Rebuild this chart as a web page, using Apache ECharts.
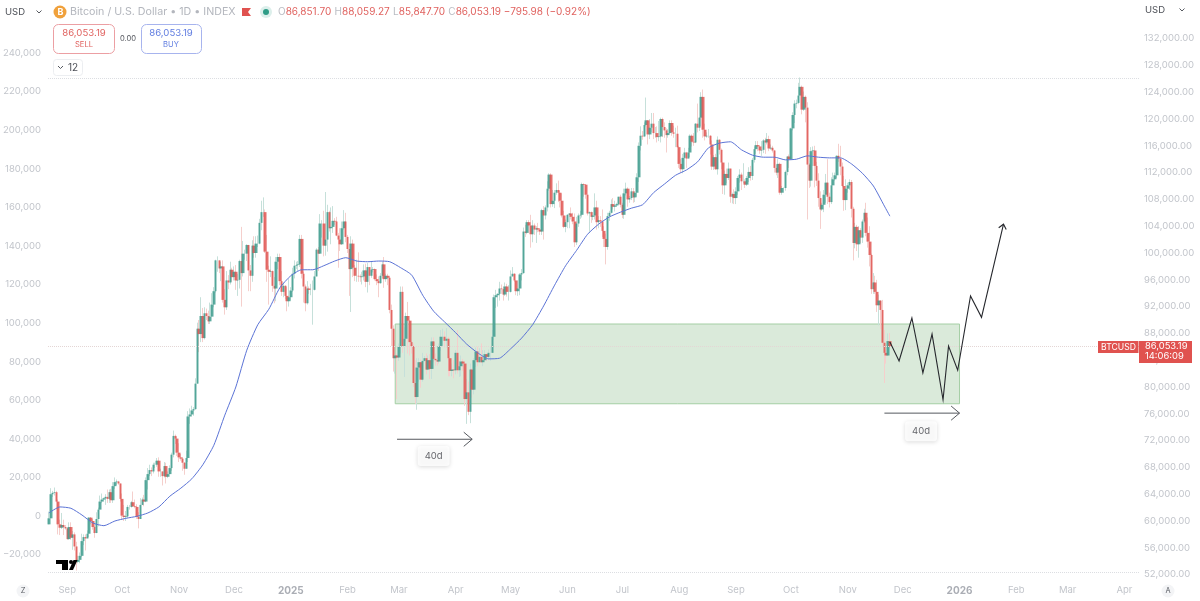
<!DOCTYPE html>
<html>
<head>
<meta charset="utf-8">
<title>BTCUSD</title>
<style>
  html, body { margin: 0; padding: 0; background: #fff; }
  #chart { width: 1200px; height: 601px; }
</style>
<script src="https://cdn.jsdelivr.net/npm/echarts@6/dist/echarts.min.js"></script>
</head>
<body>
<div id="chart"></div>
<script>
//--------------------- Data (thousands of USD) -------------------------------------------------//
const firstDay = '2024-08-22';
const axisDays = 596;
const firstOpen = 59.5;

const closes = [
  60.4,64.0,64.2,64.3,62.9,59.5,59.0,59.4,59.1,58.9,
  57.3,59.1,57.5,58.0,56.2,53.9,54.2,54.8,57.0,57.6,57.4,58.1,60.5,60.0,59.1,58.2,60.3,61.7,62.9,63.2,63.4,63.6,63.3,64.3,63.1,65.2,65.8,65.9,65.6,63.3,
  60.8,60.6,60.7,62.1,62.1,62.8,62.2,62.1,60.6,60.3,62.4,63.2,62.9,66.1,67.0,67.6,67.4,68.4,68.4,69.0,67.4,67.4,66.7,68.2,66.6,67.0,67.9,69.9,72.7,72.3,70.2,
  69.5,69.3,68.7,67.8,69.4,75.6,75.9,76.5,76.7,80.5,88.7,87.9,90.6,87.3,91.0,90.6,89.8,90.5,92.3,94.3,98.9,98.9,97.7,98.0,93.0,91.9,95.9,95.6,97.5,96.4,
  97.2,95.9,96.0,98.8,97.0,99.9,99.9,101.2,97.4,96.6,101.1,100.0,101.4,101.4,104.5,106.1,106.1,100.2,97.5,97.2,97.3,95.1,94.7,98.7,99.4,95.8,94.2,95.1,93.6,92.8,93.4,
  94.4,96.9,98.1,98.2,98.3,102.1,96.9,95.0,92.5,94.7,94.5,94.5,94.5,96.5,100.5,99.9,104.4,104.4,101.1,102.0,106.1,103.7,103.9,104.8,104.7,102.6,102.0,101.3,103.7,104.7,102.4,
  100.6,97.6,101.4,97.8,96.6,96.6,96.5,96.4,96.5,97.4,95.7,97.9,96.6,97.5,97.6,96.1,95.8,95.5,96.6,98.3,96.1,96.6,96.3,91.5,88.7,84.3,84.7,84.4,
  86.0,94.2,86.1,87.2,90.6,89.9,86.7,86.1,80.6,78.5,82.9,83.7,81.1,83.9,84.3,82.6,84.0,82.7,86.8,84.2,84.0,83.8,86.1,87.5,87.5,86.9,87.2,84.3,82.4,82.6,82.5,
  85.1,82.5,83.1,83.8,83.5,78.2,79.2,76.3,82.6,79.6,84.0,85.3,83.7,84.5,83.7,84.0,84.9,84.5,85.1,85.1,87.5,93.4,93.7,93.9,94.7,94.6,93.8,95.0,94.2,94.2,
  96.5,96.9,95.9,94.3,94.7,96.8,97.0,103.2,103.0,104.6,104.1,102.8,104.1,103.5,103.7,103.5,103.2,106.4,105.6,106.8,109.6,111.7,107.3,107.8,109.0,109.4,109.0,107.8,105.6,103.9,104.6,
  105.7,105.9,105.4,104.7,101.6,104.4,105.6,105.7,110.3,110.2,108.7,105.9,106.1,105.4,105.6,106.8,104.6,104.9,104.7,103.3,102.1,100.9,105.5,106.0,107.3,106.9,107.1,107.3,108.4,107.2,
  105.7,108.9,109.6,108.0,108.2,109.2,108.3,109.0,111.3,116.0,117.5,117.4,119.1,119.8,117.7,118.7,119.3,117.9,117.9,117.3,117.4,120.0,118.8,118.3,117.6,117.9,119.4,118.0,117.8,117.8,115.8,
  113.3,112.5,114.2,115.0,114.1,115.0,117.5,116.6,116.5,119.3,118.7,120.2,123.3,118.4,117.4,117.5,117.5,116.2,112.9,114.3,112.5,116.9,115.4,113.5,110.1,111.8,111.2,112.6,108.4,108.8,108.2,
  109.2,111.2,111.7,110.7,110.7,110.2,111.2,112.1,111.5,113.9,115.5,116.1,115.9,115.3,115.4,116.8,116.5,117.0,115.6,115.7,115.3,112.7,112.0,113.3,109.0,109.7,109.7,112.1,114.4,114.0,
  118.6,120.6,122.3,122.4,123.5,124.8,121.4,123.3,121.7,113.2,110.8,115.2,115.3,113.0,110.8,108.2,106.5,107.2,108.7,110.5,108.4,107.6,110.1,111.0,111.6,114.5,114.1,112.9,110.0,107.9,109.6,
  110.1,110.6,106.6,101.5,103.9,101.3,103.4,102.3,104.7,106.0,103.0,101.7,99.7,94.6,95.6,94.2,92.2,92.9,91.5,86.6,85.1,84.7,86.85,86.05
];

const highs = [
  61.4,64.9,64.5,65.0,64.5,63.2,60.2,61.2,60.2,59.4,
  59.0,59.8,59.8,58.5,58.3,56.9,54.8,55.3,58.1,58.0,58.0,58.6,60.6,60.6,60.3,59.2,61.3,62.0,63.8,64.1,63.5,64.0,64.7,64.7,64.8,65.8,66.5,66.2,66.0,65.6,
  64.1,62.4,61.5,62.4,62.4,63.0,64.4,63.2,62.5,61.3,63.4,63.5,63.9,66.5,67.9,68.4,68.0,68.7,68.7,69.4,69.5,67.8,67.4,68.8,68.7,67.4,68.3,70.2,73.5,72.9,72.6,
  71.6,70.0,69.5,68.8,70.5,76.4,76.8,77.2,77.0,81.3,89.6,90.0,93.4,91.8,91.9,91.7,91.4,92.6,94.0,94.9,99.0,99.5,98.7,98.7,98.9,94.6,97.3,96.7,98.7,97.8,
  98.0,98.2,96.9,99.0,103.9,101.8,100.5,101.3,101.2,98.2,101.9,102.5,102.5,102.6,105.1,107.8,108.3,106.5,102.7,98.1,99.5,97.4,96.4,99.4,99.9,99.9,97.3,95.6,95.2,94.9,96.1,
  94.9,97.8,98.9,98.7,98.8,102.7,102.7,97.2,95.3,95.8,95.0,95.4,95.9,97.3,100.7,100.9,105.8,104.9,106.3,109.1,107.2,106.3,106.8,107.0,105.2,105.4,103.0,103.7,104.7,106.4,106.0,
  102.7,101.4,102.5,102.0,98.2,99.0,100.1,96.8,97.2,98.3,98.4,98.5,97.9,98.8,97.9,97.7,96.8,96.5,97.0,98.7,99.4,96.9,96.9,96.5,92.3,89.2,87.0,85.0,
  86.5,95.0,95.0,88.9,91.1,92.7,90.0,86.9,86.5,84.0,84.3,84.3,84.1,85.1,84.6,85.0,84.7,84.9,87.4,87.4,85.0,84.5,86.5,88.5,88.7,88.3,88.8,87.5,84.6,83.5,84.0,
  85.5,88.5,83.9,84.7,84.2,83.8,81.2,80.8,83.5,82.8,84.3,85.9,86.0,85.8,86.5,85.5,85.5,85.0,85.6,86.0,88.5,93.8,94.5,94.0,95.7,95.3,95.0,95.6,95.4,95.2,
  97.4,97.9,97.0,96.0,95.9,97.0,97.6,103.8,104.2,104.9,104.9,105.7,104.9,104.4,104.0,104.5,103.7,106.6,107.0,107.1,110.7,111.9,111.9,109.4,109.4,110.4,110.8,109.3,108.9,106.3,105.0,
  105.8,105.9,106.8,106.0,105.9,105.4,105.9,106.3,110.5,110.4,110.3,108.5,106.2,106.2,106.1,108.9,107.8,105.5,105.5,106.5,104.0,102.9,106.0,106.3,108.0,108.2,107.8,107.5,108.4,108.7,
  107.5,109.6,110.5,109.8,108.5,109.7,109.7,109.2,111.9,116.5,118.9,118.2,119.5,123.2,119.5,120.0,120.9,120.9,118.8,118.9,119.7,120.2,120.2,119.5,118.6,118.5,119.8,119.8,119.0,118.7,119.0,
  116.0,114.0,114.8,115.7,115.1,115.7,117.7,117.7,117.9,119.4,122.3,120.3,124.0,124.4,119.3,118.0,118.5,117.6,116.8,114.6,114.8,117.4,117.0,115.6,113.6,112.3,112.6,113.5,112.6,109.0,109.5,
  109.8,111.5,112.5,112.0,113.4,111.0,111.5,112.8,113.0,114.2,115.9,116.7,116.7,116.0,116.7,117.0,117.2,117.9,117.5,116.2,116.0,115.4,113.2,114.0,113.5,110.0,109.8,112.3,114.4,114.7,
  118.7,121.0,122.8,122.9,125.4,126.2,125.0,124.1,123.5,122.5,113.4,115.8,115.9,116.0,113.6,111.9,109.2,107.5,109.4,111.8,114.0,109.0,111.3,112.0,112.0,114.6,116.3,116.0,113.5,111.5,111.0,
  110.5,111.0,110.9,106.9,104.5,104.2,104.0,103.7,105.0,106.6,107.5,105.3,104.0,99.9,97.0,96.6,96.0,93.8,92.7,93.0,88.5,85.6,88.0,88.06
];

const lows = [
  59.9,60.4,63.6,63.8,62.8,58.0,57.9,58.8,57.9,58.7,
  57.2,57.2,57.2,55.7,55.6,52.6,53.7,53.7,54.6,56.4,55.6,57.4,57.6,59.5,58.7,57.5,58.3,59.2,61.7,62.7,62.9,62.4,62.7,62.7,62.7,62.7,64.8,65.4,65.4,62.9,
  60.2,60.0,60.0,60.5,61.7,62.0,62.1,61.9,60.3,58.9,60.4,62.4,62.2,62.8,64.7,66.7,66.7,67.1,67.9,68.1,66.6,66.6,65.3,66.5,65.6,66.4,67.3,67.5,69.5,71.5,69.7,
  68.8,69.0,67.5,66.9,67.8,68.8,74.5,75.6,75.7,76.6,80.5,85.2,86.7,86.7,87.1,90.0,89.4,89.4,90.5,91.9,94.1,97.2,97.0,95.8,92.6,90.8,91.5,94.6,95.3,95.7,
  95.9,94.5,93.6,94.7,92.0,96.5,99.0,98.8,94.3,94.3,95.7,99.3,99.3,100.9,101.3,103.4,105.4,100.0,95.7,92.3,96.4,94.2,92.5,92.8,97.6,95.2,93.6,93.4,93.1,91.3,92.0,
  92.9,94.2,96.2,97.6,97.3,97.9,96.2,92.6,91.3,92.3,93.9,93.7,89.3,94.4,96.5,97.3,99.9,102.3,99.5,99.6,100.2,103.2,101.3,103.0,104.2,102.5,97.8,100.3,101.2,103.5,101.6,
  100.0,93.6,91.2,96.4,95.8,95.7,95.7,95.7,95.3,95.9,94.9,94.1,95.2,96.3,97.1,95.9,95.2,93.4,95.4,96.3,94.8,95.7,95.2,91.0,86.1,82.3,82.0,78.2,
  83.9,85.0,85.1,81.5,86.8,85.0,84.7,85.0,80.0,77.5,76.6,80.8,79.9,80.8,83.7,81.9,82.5,81.2,81.2,83.7,83.2,83.2,83.5,85.4,86.3,85.9,85.9,81.6,81.6,81.6,81.3,
  81.9,82.0,81.5,81.6,82.4,77.2,74.5,75.8,74.6,78.4,78.9,83.0,83.1,83.6,83.6,83.1,83.9,83.9,84.0,83.9,85.2,87.0,91.8,92.0,92.9,93.9,92.9,93.6,93.5,92.9,
  94.1,96.5,95.7,93.7,93.6,93.7,95.9,96.9,102.4,102.8,103.0,100.8,101.6,102.7,101.5,103.1,102.7,102.7,102.0,105.0,106.2,109.3,106.8,106.9,106.7,108.7,107.6,106.8,105.3,103.7,103.1,
  103.7,103.7,105.0,104.3,100.9,101.2,103.9,105.1,105.3,108.4,108.1,105.6,103.0,104.5,104.9,105.0,103.5,103.7,103.9,102.4,100.9,98.3,100.5,104.8,105.9,106.5,106.2,106.9,107.2,106.8,
  105.2,105.1,108.6,106.9,107.5,107.9,107.5,107.6,108.4,110.6,115.3,116.9,117.3,118.9,116.2,117.0,118.0,117.0,117.2,116.5,116.7,116.5,117.3,117.2,115.0,117.2,117.8,117.5,117.2,115.8,115.7,
  112.7,112.0,111.9,114.1,112.7,114.1,114.3,115.9,116.0,116.4,118.0,118.2,118.9,117.2,116.8,117.2,117.2,114.7,112.4,112.4,112.4,111.7,114.7,112.5,108.8,108.7,110.4,110.9,107.5,107.4,107.3,
  107.3,108.7,110.5,109.4,110.4,109.7,110.0,110.6,110.8,110.9,113.5,114.8,115.2,114.8,114.5,114.9,114.8,116.2,115.2,115.4,115.0,112.0,111.6,111.2,108.7,108.7,109.0,109.3,111.6,112.7,
  113.9,118.3,119.4,121.6,122.2,123.7,120.7,121.2,119.5,105.0,109.7,109.9,113.0,109.8,110.0,106.9,103.6,106.3,106.1,107.5,107.3,106.8,107.3,110.4,110.8,111.2,113.6,111.6,109.8,106.3,106.4,
  109.0,109.4,105.3,98.9,100.7,100.3,99.3,101.5,101.5,104.5,102.5,100.8,98.0,93.9,93.9,93.9,91.2,89.2,88.6,86.2,80.6,83.5,84.7,85.85
];

// blue moving average, read every 6th candle, last one at the final candle
const maStep = 6;
const maValues = [
  61.2,62.1,61.9,60.9,59.7,59.3,60.0,60.4,60.7,61.2,62.1,63.7,64.9,66.3,68.4,71.3,75.8,80.0,85.5,89.3,
  91.6,94.8,96.6,97.5,97.5,98.1,98.8,99.3,98.8,98.7,98.8,98.7,97.8,96.7,93.7,91.3,89.7,88.1,86.4,85.1,
  84.2,84.3,85.7,87.3,89.3,92.1,95.2,98.1,100.4,102.8,104.3,105.4,106.1,106.7,107.2,109.0,110.3,111.6,112.4,113.6,
  115.7,116.4,116.6,115.4,114.6,114.3,114.3,113.9,114.0,114.5,114.3,114.2,114.2,113.3,111.9,110.0,107.0,105.5
];

// hand drawn projection after the last candle
const forecastDays = [459, 464, 471, 477, 482, 488, 491, 496, 503, 509, 521];
const forecastPrices = [86.7, 83.9, 90.3, 82.1, 87.9, 78.1, 86.1, 82.5, 93.6, 90.4, 104.3];

// green range box and the two 40 day rulers
const boxDays = [189.5, 497];
const boxPrices = [77.5, 89.4];
const rulerStartDays = [190, 456];
const rulerEndDays = [231, 497];
const rulerPrices = [72.2, 76.1];
const rulerLabelDays = [210, 476];
const rulerLabelPrices = [69.7, 73.4];

const lastPrice = 86053.19;
const allTimeHigh = 126.1;
const rangeLow = 52.4;

const leftTicks = [-20000, 0, 20000, 40000, 60000, 80000, 100000, 120000, 140000, 160000, 180000, 200000, 220000, 240000];
const monthNames = ['', 'Feb', 'Mar', 'Apr', 'May', 'Jun', 'Jul', 'Aug', 'Sep', 'Oct', 'Nov', 'Dec'];

//--------------------- Styles ---------------------------//
const uiFont = 'Inter, "Noto Sans", sans-serif';
const upColor = '#38998a';
const downColor = '#df4f4c';
const upWick = '#c6e0da';
const downWick = '#f5cfcc';
const tickColor = '#c2c5cb';
const gridTop = 38.6;
const gridBottom = 26.4;

//--------------------- Build ---------------------------//
if (highs.length !== closes.length || lows.length !== closes.length) {
  throw new Error(`lengths ${closes.length} ${highs.length} ${lows.length}`);
}

const categories = [];
for (let i = 0; i < axisDays; i++) {
  categories.push(new Date(Date.parse(firstDay) + i * 86400000).toISOString().slice(0, 10));
}

const opens = closes.map((c, i) => (i === 0 ? firstOpen : closes[i - 1]));
const wickData = closes.map((c, i) => {
  const o = opens[i];
  return [o * 1000, c * 1000, Math.min(lows[i], o, c) * 1000, Math.max(highs[i], o, c) * 1000];
});
const bodyData = closes.map((c, i) => {
  const o = opens[i];
  return [o * 1000, c * 1000, Math.min(o, c) * 1000, Math.max(o, c) * 1000];
});
const maData = maValues.map((v, i) => [Math.min(i * maStep, closes.length - 1), v * 1000]);

// open chevron at the end of a polyline, sized in pixels
function arrowHead(tip, from, size) {
  const a = Math.atan2(from[1] - tip[1], from[0] - tip[0]);
  const wing = (d) => [tip[0] + size * Math.cos(a + d), tip[1] + size * Math.sin(a + d)];
  return [wing(0.7), tip, wing(-0.7)];
}

function polyline(points, width, color) {
  return {
    type: 'polyline',
    shape: { points: points },
    style: { stroke: color, lineWidth: width, fill: null }
  };
}

function renderForecast(params, api) {
  const pts = forecastDays.map((d, i) => api.coord([d, forecastPrices[i] * 1000]));
  const n = pts.length;
  return {
    type: 'group',
    children: [polyline(pts, 1.1, '#26282d'), polyline(arrowHead(pts[n - 1], pts[n - 2], 6), 1.1, '#26282d')]
  };
}

function renderRuler(params, api) {
  const i = params.dataIndex;
  const a = api.coord([rulerStartDays[i], rulerPrices[i] * 1000]);
  const b = api.coord([rulerEndDays[i], rulerPrices[i] * 1000]);
  return {
    type: 'group',
    children: [polyline([a, b], 1, '#55585e'), polyline(arrowHead(b, a, 11), 1, '#55585e')]
  };
}

function txt(text, x, y, fill, size, extra) {
  return {
    type: 'text', z: 50,
    style: Object.assign({
      text: text, x: x, y: y, fill: fill,
      font: `${size}px ${uiFont}`, textVerticalAlign: 'middle'
    }, extra || {})
  };
}

function box(x, y, w, h, stroke, r, fill) {
  return {
    type: 'rect', z: 49,
    shape: { x: x, y: y, width: w, height: h, r: r },
    style: { fill: fill || '#fff', stroke: stroke, lineWidth: 1 }
  };
}

function chevron(cx, cy) {
  return {
    type: 'polyline', z: 50,
    shape: { points: [[cx - 2.5, cy - 1.5], [cx, cy + 1], [cx + 2.5, cy - 1.5]] },
    style: { stroke: '#55585f', lineWidth: 1, fill: null }
  };
}

const chrome = [
  // header
  txt('USD', 5, 12, '#4d5057', 9.5),
  chevron(39, 12),
  { type: 'circle', z: 49, shape: { cx: 60, cy: 12, r: 6.5 }, style: { fill: '#f0a13c' } },
  txt('B', 57.5, 12, '#fff', 9, { font: `bold 9px ${uiFont}` }),
  txt('Bitcoin / U.S. Dollar • 1D • INDEX', 70, 12, '#b3b6bd', 10.7),
  { type: 'polygon', z: 49, shape: { points: [[242, 8], [251, 8], [248, 12], [251, 16], [242, 16]] }, style: { fill: '#e0524f' } },
  { type: 'circle', z: 49, shape: { cx: 266, cy: 12, r: 6 }, style: { fill: '#dcefeb' } },
  { type: 'circle', z: 49, shape: { cx: 266, cy: 12, r: 3 }, style: { fill: '#2f9c86' } },
  {
    type: 'text', z: 50,
    style: {
      text: '{g|O}{r|86,851.70} {g|H}{r|88,059.27} {g|L}{r|85,847.70} {g|C}{r|86,053.19 −795.98 (−0.92%)}',
      x: 278, y: 12, textVerticalAlign: 'middle',
      rich: {
        g: { fill: '#b9bcc3', font: `10px ${uiFont}` },
        r: { fill: '#e0625f', font: `10px ${uiFont}` }
      }
    }
  },
  // sell and buy boxes
  box(53.5, 24.5, 61, 29, '#ec9fa3', 5),
  txt('86,053.19', 84, 33, '#e0625f', 9.6, { textAlign: 'center' }),
  txt('SELL', 84, 45, '#e0625f', 7.6, { textAlign: 'center' }),
  txt('0.00', 128, 39, '#55585f', 7.6, { textAlign: 'center' }),
  box(141.5, 24.5, 60, 29, '#a7b4ee', 5),
  txt('86,053.19', 171, 33, '#5f7ce0', 9.6, { textAlign: 'center' }),
  txt('BUY', 171, 45, '#5f7ce0', 7.6, { textAlign: 'center' }),
  box(53.5, 59.5, 29, 16, '#eceef1', 3),
  chevron(60.5, 67.5),
  txt('12', 68, 67.5, '#4d5057', 10),
  txt('USD', 1145, 10, '#4d5057', 9.5),
  chevron(1182, 10),
  // last price labels
  { type: 'rect', z: 49, shape: { x: 1098, y: 341, width: 40.5, height: 12 }, style: { fill: '#e0524f' } },
  txt('BTCUSD', 1118.5, 347, '#fff', 8.6, { textAlign: 'center' }),
  { type: 'rect', z: 49, shape: { x: 1139, y: 341, width: 53, height: 22 }, style: { fill: '#e0524f' } },
  txt('86,053.19', 1145, 346.5, '#fff', 9.4),
  txt('14:06:09', 1145, 356.5, '#fff', 9.4),
  // logo
  { type: 'polygon', z: 50, shape: { points: [[56, 560], [68, 560], [68, 570], [62, 570], [62, 564], [56, 564]] }, style: { fill: '#000' } },
  { type: 'circle', z: 50, shape: { cx: 71, cy: 562, r: 2 }, style: { fill: '#000' } },
  { type: 'polygon', z: 50, shape: { points: [[69, 570], [73.5, 560], [77.5, 560], [73, 570]] }, style: { fill: '#000' } },
  // axis corner buttons
  { type: 'circle', z: 49, shape: { cx: 23, cy: 591, r: 6.5 }, style: { fill: '#f3f4f6' } },
  txt('Z', 23, 591, '#55585f', 7.4, { textAlign: 'center' }),
  { type: 'circle', z: 49, shape: { cx: 1168, cy: 591, r: 6.5 }, style: { fill: '#f3f4f6' } },
  txt('A', 1168, 591, '#55585f', 7.4, { textAlign: 'center' })
];

//--------------------- Chart ---------------------------//
const chart = echarts.init(document.getElementById('chart'));
chart.setOption({
  animation: false,
  backgroundColor: '#ffffff',
  graphic: chrome,
  grid: { left: 48, right: 60, top: gridTop, bottom: gridBottom },
  xAxis: {
    type: 'category',
    data: categories,
    boundaryGap: true,
    axisLine: { show: false },
    axisTick: { show: false },
    splitLine: { show: false },
    axisLabel: {
      margin: 11,
      color: tickColor,
      fontFamily: uiFont,
      fontSize: 9.5,
      hideOverlap: false,
      interval: (i, v) => v.endsWith('-01'),
      formatter: (v) => {
        const m = +v.slice(5, 7);
        return m === 1 ? `{year|${v.slice(0, 4)}}` : monthNames[m - 1];
      },
      rich: { year: { color: '#abaeb5', fontFamily: uiFont, fontSize: 10, fontWeight: 'bold' } }
    }
  },
  yAxis: [
    {
      type: 'value', position: 'right', min: 52000, max: 132000, interval: 4000,
      axisLine: { show: false }, axisTick: { show: false }, splitLine: { show: false },
      axisLabel: {
        margin: 4, color: tickColor, fontFamily: uiFont, fontSize: 9.5,
        formatter: (v) => v.toLocaleString('en-US', { minimumFractionDigits: 2 })
      }
    },
    {
      type: 'value', position: 'left', min: -30375, max: 247460,
      axisLine: { show: false }, axisTick: { show: false }, splitLine: { show: false },
      axisLabel: {
        margin: 7, color: tickColor, fontFamily: uiFont, fontSize: 9.5,
        customValues: leftTicks,
        formatter: (v) => v.toLocaleString('en-US').replace('-', '−')
      }
    }
  ],
  series: [
    {
      name: 'range',
      type: 'line',
      data: [],
      silent: true,
      markArea: {
        silent: true,
        itemStyle: { color: 'rgba(88,160,88,0.22)', borderColor: '#a5cfa5', borderWidth: 1 },
        data: [[
          { coord: [categories[Math.floor(boxDays[0])], boxPrices[1] * 1000] },
          { coord: [categories[boxDays[1]], boxPrices[0] * 1000] }
        ]]
      },
      markLine: {
        silent: true, symbol: 'none', label: { show: false },
        lineStyle: { color: '#dcdee2', type: 'dotted', width: 1 },
        data: [
          { yAxis: allTimeHigh * 1000 },
          { yAxis: rangeLow * 1000 },
          { yAxis: lastPrice, lineStyle: { color: '#e4d6d5', type: 'dotted', width: 1 } }
        ]
      }
    },
    {
      name: 'wicks',
      type: 'candlestick',
      data: wickData,
      barWidth: 1,
      itemStyle: { color: upWick, color0: downWick, borderColor: upWick, borderColor0: downWick, borderWidth: 1 }
    },
    {
      name: 'BTCUSD',
      type: 'candlestick',
      data: bodyData,
      barWidth: 3,
      itemStyle: {
        color: upColor, color0: downColor, borderColor: upColor, borderColor0: downColor,
        borderWidth: 0, opacity: 0.82
      }
    },
    {
      name: 'MA',
      type: 'line',
      data: maData,
      showSymbol: false,
      smooth: 0.2,
      lineStyle: { color: '#5b73d6', width: 1 },
      z: 5
    },
    {
      name: 'forecast',
      type: 'custom',
      data: [0],
      renderItem: renderForecast,
      clip: false,
      silent: true,
      z: 6
    },
    {
      name: 'rulers',
      type: 'custom',
      data: rulerPrices,
      renderItem: renderRuler,
      clip: false,
      silent: true,
      z: 6
    },
    {
      name: 'ruler labels',
      type: 'scatter',
      symbolSize: 1,
      itemStyle: { color: 'rgba(0,0,0,0)' },
      data: rulerLabelDays.map((d, i) => [d, rulerLabelPrices[i] * 1000]),
      silent: true,
      z: 7,
      label: {
        show: true,
        position: 'inside',
        formatter: '40d',
        color: '#3d3f45',
        fontFamily: uiFont,
        fontSize: 9.5,
        backgroundColor: '#fff',
        borderRadius: 3,
        padding: [5, 7],
        shadowColor: 'rgba(0,0,0,0.18)',
        shadowBlur: 4,
        shadowOffsetY: 1
      }
    }
  ]
});
</script>
</body>
</html>
